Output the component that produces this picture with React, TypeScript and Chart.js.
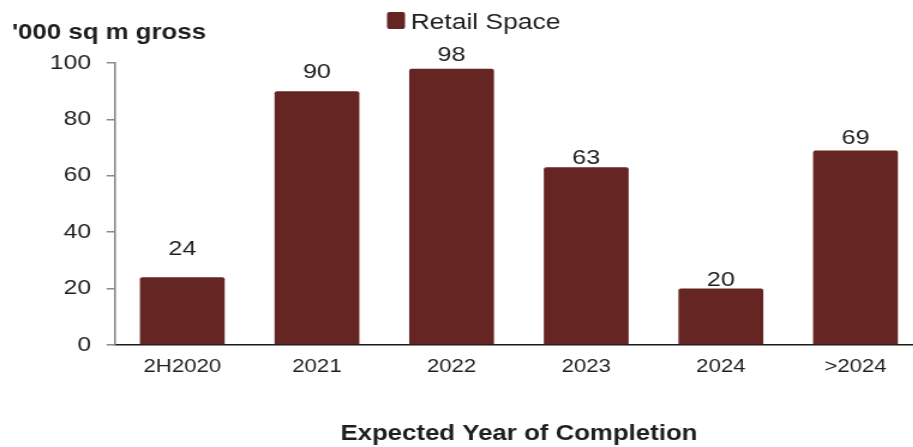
import React, { useEffect, useRef } from 'react';
import { Chart, registerables } from 'chart.js';

Chart.register(...registerables);

// ---- data ----
const categories = ['2H2020', '2021', '2022', '2023', '2024', '>2024'];
const retailSpace = [24, 90, 98, 63, 20, 69];
const yTicks = [0, 20, 40, 60, 80, 100];
const seriesLabel = 'Retail Space';
const yAxisTitle = "'000 sq m gross";
const xAxisTitle = 'Expected Year of Completion';

// ---- style ----
const STRETCH = 1.2; // reference is horizontally stretched
const LOGICAL_W = 770;
const H = 447;
const BAR = '#652523';
const TEXT = '#1e1e1e';
const FONT = '"Liberation Sans", Arial, Helvetica, sans-serif';
const labelGap = [22, 13, 8, 3, 3, 6]; // px gap between label baseline and bar top

const overlayPlugin = {
  id: 'overlay',
  afterDatasetsDraw(chart: any) {
    const ctx = chart.ctx;
    const meta = chart.getDatasetMeta(0);
    ctx.save();
    ctx.fillStyle = TEXT;
    ctx.font = `21px ${FONT}`;
    ctx.textAlign = 'center';
    ctx.textBaseline = 'alphabetic';
    meta.data.forEach((bar: any, i: number) => {
      const v = chart.data.datasets[0].data[i];
      ctx.fillText(String(v), bar.x, bar.y - labelGap[i]);
    });
    ctx.restore();
  },
  afterDraw(chart: any) {
    const ctx = chart.ctx;
    ctx.save();
    // y-axis title
    ctx.fillStyle = TEXT;
    ctx.font = `bold 21.5px ${FONT}`;
    ctx.textAlign = 'left';
    ctx.textBaseline = 'alphabetic';
    ctx.fillText(yAxisTitle, 10, 39);
    // legend
    const bx = 322.5, by = 12, bw = 15, bh = 17;
    ctx.fillStyle = chart.data.datasets[0].backgroundColor;
    ctx.beginPath();
    (ctx as any).roundRect ? (ctx as any).roundRect(bx, by, bw, bh, 2) : ctx.rect(bx, by, bw, bh);
    ctx.fill();
    ctx.fillStyle = TEXT;
    ctx.font = `22px ${FONT}`;
    ctx.fillText(chart.data.datasets[0].label, 342.2, 29);
    ctx.restore();
  },
};

export default function App() {
  const ref = useRef<HTMLCanvasElement | null>(null);

  useEffect(() => {
    if (!ref.current) return;
    Chart.defaults.font.family = FONT;
    const chart = new Chart(ref.current, {
      type: 'bar',
      data: {
        labels: categories,
        datasets: [
          {
            label: seriesLabel,
            data: retailSpace,
            backgroundColor: BAR,
            borderRadius: 2,
            borderSkipped: 'bottom',
            barPercentage: 0.63,
            categoryPercentage: 1,
          },
        ],
      },
      options: {
        responsive: false,
        animation: false,
        devicePixelRatio: 1,
        layout: { padding: { top: 63, left: 0, right: 1, bottom: 0 } },
        plugins: {
          legend: { display: false },
          tooltip: { enabled: false },
          title: { display: false },
        },
        scales: {
          x: {
            grid: { display: false, drawTicks: false },
            border: { display: true, color: '#1a1a1a', width: 1.5 },
            ticks: {
              color: TEXT,
              font: { size: 18.5 },
              padding: 11,
              maxRotation: 0,
              autoSkip: false,
            },
            title: {
              display: true,
              text: xAxisTitle,
              color: TEXT,
              font: { size: 21.5, weight: 'bold' },
              padding: { top: 0, bottom: 0 },
            },
            afterFit: (scale: any) => {
              scale.height = 102;
            },
          },
          y: {
            min: 0,
            max: 100,
            afterBuildTicks: (scale: any) => {
              scale.ticks = yTicks.map((v) => ({ value: v }));
            },
            grid: {
              drawOnChartArea: false,
              drawTicks: true,
              tickLength: 7,
              color: '#8a8a8a',
              lineWidth: 1.5,
            },
            border: { display: true, color: '#8a8a8a', width: 1.6 },
            ticks: {
              color: TEXT,
              font: { size: 20.5 },
              padding: 13,
            },
            afterFit: (scale: any) => {
              scale.width = 95.8;
            },
          },
        },
      },
      plugins: [overlayPlugin],
    } as any);
    return () => chart.destroy();
  }, []);

  return (
    <div
      style={{
        position: 'fixed',
        left: 0,
        top: 0,
        width: 913,
        height: H,
        overflow: 'hidden',
        background: '#ffffff',
      }}
    >
      <div
        style={{
          width: LOGICAL_W,
          height: H,
          transform: `scaleX(${STRETCH})`,
          transformOrigin: '0 0',
        }}
      >
        <canvas ref={ref} width={LOGICAL_W} height={H} style={{ display: 'block' }} />
      </div>
    </div>
  );
}
